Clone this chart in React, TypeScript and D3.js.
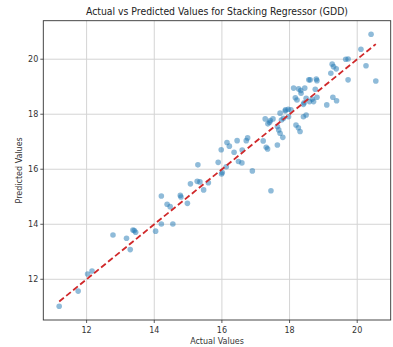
import React from "react";
import * as d3 from "d3";

const actual: number[] = [
  11.19, 11.75, 12.03, 12.16, 12.78, 13.18, 13.29, 13.37, 13.45, 13.41,
  14.04, 14.21, 14.21, 14.38, 14.47, 14.55, 14.77, 14.79, 14.98, 15.07,
  15.27, 15.35, 15.46, 15.60, 15.29, 15.89, 15.98, 16.01, 15.99, 16.13,
  16.15, 16.22, 16.36, 16.45, 16.49, 16.59, 16.60, 16.72, 16.76, 16.90,
  17.22, 17.28, 17.31, 17.35, 17.41, 17.43, 17.45, 17.51, 17.36, 17.64,
  17.68, 17.72, 17.80, 17.64, 17.72, 17.76, 17.82, 17.87, 17.88, 17.96,
  18.04, 17.97, 18.12, 18.19, 18.26, 18.31, 18.17, 18.22, 18.27, 18.33,
  18.45, 18.49, 18.57, 18.41, 18.49, 18.61, 18.79, 18.81, 18.59, 18.67,
  18.76, 18.43, 18.41, 18.81, 18.71, 19.10, 19.28, 19.39, 19.22, 19.26,
  19.30, 19.38, 19.66, 19.73, 19.73, 20.11, 20.26, 20.41, 20.55, 18.34
];
const predicted: number[] = [
  11.02, 11.57, 12.19, 12.30, 13.61, 13.49, 13.08, 13.79, 13.71, 13.77,
  13.75, 15.03, 14.01, 14.73, 14.64, 14.01, 15.05, 14.99, 14.76, 15.47,
  15.56, 15.54, 15.25, 15.51, 16.16, 16.25, 16.71, 15.88, 15.83, 16.09,
  16.97, 16.84, 16.62, 17.04, 16.28, 16.23, 16.70, 17.04, 17.14, 15.94,
  17.03, 17.83, 16.80, 16.74, 17.71, 17.77, 15.22, 17.83, 17.65, 17.55,
  17.43, 17.31, 17.16, 16.88, 18.04, 17.79, 17.85, 18.12, 18.16, 18.18,
  18.16, 17.91, 18.95, 17.61, 17.51, 17.37, 18.60, 18.52, 18.92, 18.86,
  18.95, 18.58, 19.25, 17.91, 17.97, 19.25, 19.28, 19.22, 18.46, 18.55,
  18.91, 18.42, 18.36, 18.62, 18.46, 18.34, 18.62, 18.49, 19.49, 19.82,
  19.73, 19.65, 20.00, 20.01, 19.25, 20.36, 19.76, 20.91, 19.21, 18.76
];
const xTicks: number[] = [12, 14, 16, 18, 20];
const yTicks: number[] = [12, 14, 16, 18, 20];
const titleText = "Actual vs Predicted Values for Stacking Regressor (GDD)";
const xLabel = "Actual Values";
const yLabel = "Predicted Values";

export default function App() {
  const W = 393, H = 347;
  const left = 43.3, right = 390.7, top = 20.7, bottom = 320;
  const x = d3.scaleLinear().domain([10.72, 20.99]).range([left, right]);
  const y = d3.scaleLinear().domain([10.52, 21.4]).range([bottom, top]);
  const lo = d3.min(actual) as number;
  const hi = d3.max(actual) as number;
  const font = "DejaVu Sans, sans-serif";
  const pts = actual.map((a, i) => [a, predicted[i]] as [number, number]);
  const line = d3.line<number>().x((d) => x(d)).y((d) => y(d));
  return (
    <svg width={W} height={H} style={{ position: "absolute", left: 0, top: 0, background: "#fff" }}>
      <text x={(left + right) / 2} y={15} textAnchor="middle" fontFamily={font} fontSize={10} fill="#222"
        textLength={262} lengthAdjust="spacingAndGlyphs">{titleText}</text>
      {xTicks.map((t) => (
        <line key={"gx" + t} x1={x(t)} x2={x(t)} y1={top} y2={bottom} stroke="#d4d4d4" strokeWidth={1} />
      ))}
      {yTicks.map((t) => (
        <line key={"gy" + t} x1={left} x2={right} y1={y(t)} y2={y(t)} stroke="#d4d4d4" strokeWidth={1} />
      ))}
      {pts.map((p, i) => (
        <circle key={i} cx={x(p[0])} cy={y(p[1])} r={2.8} fill="#1f77b4" fillOpacity={0.5} />
      ))}
      <path d={line([lo, hi]) || ""} stroke="#d0282a" strokeWidth={1.8} strokeDasharray="6,3" fill="none" />
      <rect x={left} y={top} width={right - left} height={bottom - top} fill="none" stroke="#333" strokeWidth={0.9} />
      {xTicks.map((t) => (
        <g key={"tx" + t}>
          <line x1={x(t)} x2={x(t)} y1={bottom} y2={bottom + 3} stroke="#333" strokeWidth={0.8} />
          <text x={x(t)} y={bottom + 12.5} textAnchor="middle" fontFamily={font} fontSize={8} fill="#333">{t}</text>
        </g>
      ))}
      {yTicks.map((t) => (
        <g key={"ty" + t}>
          <line x1={left - 3} x2={left} y1={y(t)} y2={y(t)} stroke="#333" strokeWidth={0.8} />
          <text x={left - 5} y={y(t) + 2.9} textAnchor="end" fontFamily={font} fontSize={8} fill="#333">{t}</text>
        </g>
      ))}
      <text x={(left + right) / 2} y={344} textAnchor="middle" fontFamily={font} fontSize={8} fill="#333">{xLabel}</text>
      <text transform={`translate(22,${(top + bottom) / 2}) rotate(-90)`} textAnchor="middle" fontFamily={font} fontSize={8} fill="#333">{yLabel}</text>
    </svg>
  );
}
